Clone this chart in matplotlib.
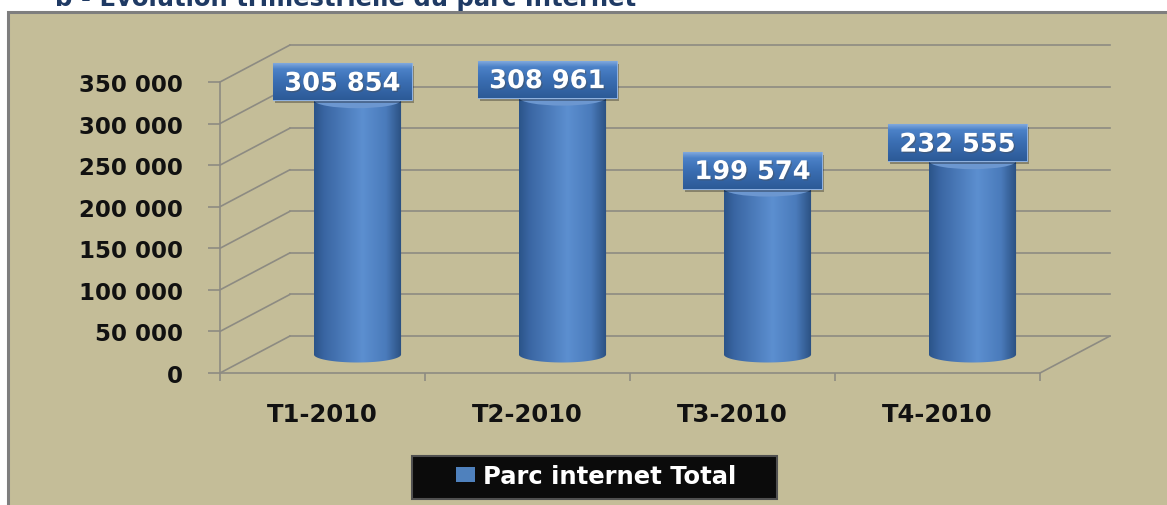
import numpy as np
import matplotlib
matplotlib.use("Agg")
import matplotlib.pyplot as plt
import matplotlib.patches as mpatches
import matplotlib.transforms as mtransforms
from matplotlib.colors import LinearSegmentedColormap
import matplotlib.patheffects as pe

# ---------------- data ----------------
categories = ["T1-2010", "T2-2010", "T3-2010", "T4-2010"]
values = [305854, 308961, 199574, 232555]
value_labels = ["305 854", "308 961", "199 574", "232 555"]
yticks = [0, 50000, 100000, 150000, 200000, 250000, 300000, 350000]
ytick_labels = ["0", "50 000", "100 000", "150 000", "200 000", "250 000", "300 000", "350 000"]
series_name = "Parc internet Total"
title = "b - Evolution trimestrielle du parc Internet"

# ---------------- style ----------------
W, H, DPI = 1167, 506, 100
khaki = "#C4BD98"
grid_color = "#8D8B82"
plt.rcParams["font.family"] = ["DejaVu Sans"]
plt.rcParams["font.weight"] = "bold"

fig = plt.figure(figsize=(W / DPI, H / DPI), dpi=DPI)
fig.patch.set_facecolor("white")

# outer frame
frame = mpatches.Rectangle((8 / W, -20 / H), (W + 20 - 8) / W, (H - 13 + 20) / H,
                           transform=fig.transFigure, facecolor=khaki,
                           edgecolor="#7E7E7E", lw=2.2, zorder=-10)
fig.patches.append(frame)

fig.text(55 / W, (H - 6) / H, title, ha="left", va="baseline", fontsize=17.5,
         color="#1F3A64", fontweight="bold")

ax = fig.add_axes([220 / W, 132 / H, 820 / W, 291 / H])
ax.set_xlim(0, 4)
ax.set_ylim(0, 350000)
ax.patch.set_visible(False)

back = ax.transData + mtransforms.ScaledTranslation(0.70, 0.37, fig.dpi_scale_trans)
mid = ax.transData + mtransforms.ScaledTranslation(0.35, 0.185, fig.dpi_scale_trans)

# back wall gridlines + diagonals
for v in yticks:
    ax.plot([0, 4], [v, v], transform=back, color=grid_color, lw=1.2,
            clip_on=False, zorder=1)
    cp = mpatches.ConnectionPatch(xyA=(0, v), coordsA=ax.transData,
                                  xyB=(0, v), coordsB=back,
                                  color=grid_color, lw=1.2, zorder=1)
    ax.add_artist(cp)
cp = mpatches.ConnectionPatch(xyA=(4, 0), coordsA=ax.transData,
                              xyB=(4, 0), coordsB=back,
                              color=grid_color, lw=1.2, zorder=1)
ax.add_artist(cp)

for s in ["top", "right"]:
    ax.spines[s].set_visible(False)
for s in ["left", "bottom"]:
    ax.spines[s].set_color(grid_color)
    ax.spines[s].set_linewidth(1.2)

ax.set_yticks(yticks, ytick_labels)
ax.tick_params(axis="y", length=8.6, width=1.2, color=grid_color, pad=18,
               labelsize=16.5, labelcolor="#111111")
xc = np.arange(len(categories)) + 0.5
ax.set_xticks(xc, categories)
ax.set_xticks(np.arange(len(categories) + 1), minor=True)
ax.tick_params(axis="x", which="major", length=0, pad=21, labelsize=17.5,
               labelcolor="#111111")
ax.tick_params(axis="x", which="minor", length=5.8, width=1.2, color=grid_color)
for lab in ax.get_xticklabels() + ax.get_yticklabels():
    lab.set_fontweight("bold")

# ---------------- cylinders ----------------
cyl_cmap = LinearSegmentedColormap.from_list(
    "cyl", [(0.0, "#2B5489"), (0.12, "#3A66A3"), (0.55, "#5C8FD0"),
            (0.82, "#4A7BBB"), (1.0, "#2A4F80")])
bar_w = 0.425
ell_h = 8 / (ax.bbox.height / 350000.0)

for c, v in zip(xc, values):
    t_low = np.linspace(np.pi, 2 * np.pi, 60)
    t_up = np.linspace(0, np.pi, 60)
    verts = [(c - bar_w / 2, v)]
    verts += list(zip(c + bar_w / 2 * np.cos(t_low), ell_h * np.sin(t_low)))
    verts += list(zip(c + bar_w / 2 * np.cos(t_up), v + ell_h * np.sin(t_up)))
    poly = mpatches.Polygon(verts, closed=True, transform=mid,
                            facecolor="none", edgecolor="none")
    ax.add_patch(poly)
    img = ax.imshow(np.linspace(0, 1, 256)[None, :], cmap=cyl_cmap,
                    extent=(c - bar_w / 2, c + bar_w / 2, -ell_h, v + ell_h),
                    aspect="auto", transform=mid, zorder=3,
                    interpolation="bilinear")
    img.set_clip_path(poly)
    top = mpatches.Ellipse((c, v), bar_w, 2 * ell_h, transform=mid,
                           facecolor="#6C97D0", edgecolor="none", zorder=3.5)
    ax.add_patch(top)

# ---------------- value labels ----------------
box_cmap = LinearSegmentedColormap.from_list(
    "box", [(0.0, "#2C5A97"), (0.55, "#3C70B5"), (0.85, "#4C82C8"), (1.0, "#7FA8DD")])
bw, bh, bdx = 139, 37, -15
for c, v, lab in zip(xc, values, value_labels):
    bt = mtransforms.Affine2D() + mtransforms.ScaledTranslation(c, v, mid)
    shadow = mpatches.Rectangle((bdx - bw / 2 + 2, -3), bw, bh, transform=bt,
                                facecolor="black", alpha=0.3, edgecolor="none",
                                zorder=4.5, clip_on=False)
    ax.add_patch(shadow)
    box = mpatches.Rectangle((bdx - bw / 2, 0), bw, bh, transform=bt,
                             facecolor="#3C70B5", edgecolor="#8FB1DF", lw=0.8,
                             zorder=5, clip_on=False)
    ax.add_patch(box)
    bimg = ax.imshow(np.linspace(0, 1, 64)[:, None], cmap=box_cmap, origin="lower",
                     extent=(bdx - bw / 2, bdx + bw / 2, 0, bh), aspect="auto",
                     transform=bt, zorder=5.2, interpolation="bilinear")
    bimg.set_clip_path(box)
    ax.text(bdx, bh / 2 - 9, lab, transform=bt, ha="center", va="baseline",
            fontsize=18.5, color="white", fontweight="bold", zorder=6,
            path_effects=[pe.withSimplePatchShadow(offset=(1, -1), alpha=0.4)])

ax.set_xlim(0, 4)
ax.set_ylim(0, 350000)

# ---------------- legend ----------------
leg_box = mpatches.FancyBboxPatch((412 / W, 6 / H), 365 / W, 43 / H,
                                  boxstyle="square,pad=0", transform=fig.transFigure,
                                  facecolor="#0B0B0B", edgecolor="#505050", lw=1.5,
                                  zorder=4)
fig.patches.append(leg_box)
handle = mpatches.Patch(facecolor="#4F81BD", edgecolor="none", label=series_name)
leg = fig.legend(handles=[handle], loc="center left",
                 bbox_to_anchor=(456 / W, 29 / H), frameon=False,
                 prop={"size": 17.5, "weight": "bold"}, labelcolor="white",
                 handlelength=0.8, handleheight=0.6, handletextpad=0.3,
                 borderpad=0, borderaxespad=0)
leg.set_zorder(6)

fig.savefig("out.png", dpi=DPI, facecolor=fig.get_facecolor())
